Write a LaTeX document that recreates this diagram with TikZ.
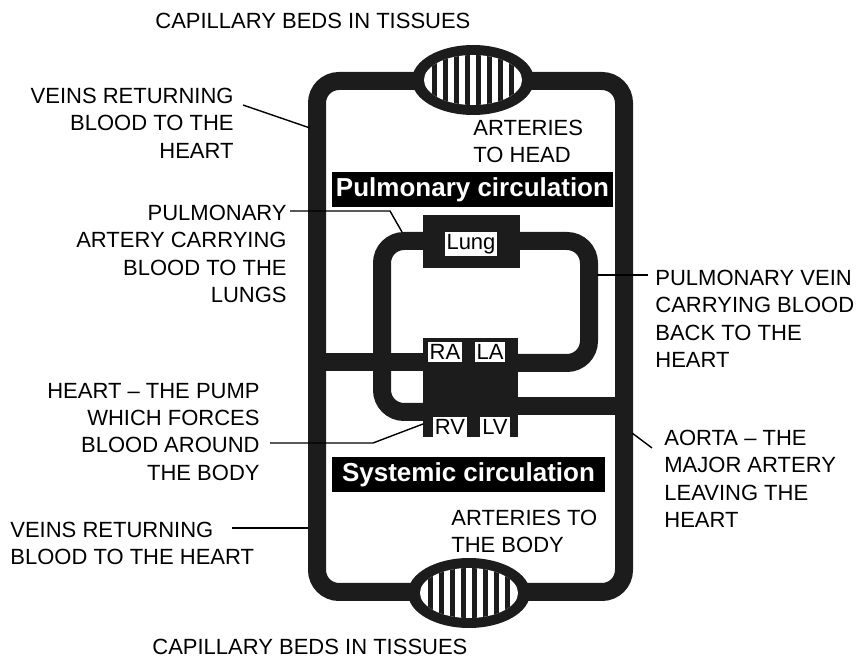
\documentclass[tikz,border=0pt]{standalone}
\usepackage{fontspec}
\setmainfont{Liberation Sans}
\usetikzlibrary{positioning}
\definecolor{vessel}{HTML}{1C1C1C}

\begin{document}
\begin{tikzpicture}[x=0.5pt,y=-0.5pt,
  tube/.style={draw=vessel, line width=9pt, rounded corners=11pt},
  organ/.style={fill=vessel, inner sep=0pt},
  tag/.style={fill=white, text=black, inner sep=1pt, font=\fontsize{11}{12}\selectfont},
  lbl/.style={inner sep=0pt, font=\fontsize{11}{13.6}\selectfont},
  title/.style={fill=black, text=white, inner sep=0pt, minimum height=17.5pt,
    font=\fontsize{13}{15}\selectfont\bfseries},
  leader/.style={draw=black, line width=0.7pt}]
\useasboundingbox (0,0) rectangle (859,658);

% vessels
\draw[tube] (317,81) rectangle (624,592);
\draw[tube] (423,412) -- (382,412) -- (382,241) -- (589,241) -- (589,363) -- (518,363);
\draw[tube] (317,362) -- (423,362);
\draw[tube] (518,406) -- (624,406);

% organs
\node[organ, minimum width=48.5pt, minimum height=26.5pt] (lung) at (471.5,241.5) {};
\node[organ, minimum width=47.5pt, minimum height=49.5pt] (heart) at (470.5,387.5) {};
\node[tag] (lungTag) at (471,244) {Lung};
\node[tag] (ra) at (445,352) {RA};
\node[tag] (la) at (490,352) {LA};
\node[tag] (rv) at (450,427) {RV};
\node[tag] (lv) at (495,427) {LV};

% capillary beds
\foreach \cx/\cy in {473/80, 469/593}{
  \fill[vessel] (\cx,\cy) ellipse [x radius=30.5pt, y radius=17.5pt];
  \begin{scope}
    \clip (\cx,\cy) ellipse [x radius=24.5pt, y radius=12.5pt];
    \fill[white] ({\cx-50},{\cy-30}) rectangle ({\cx+50},{\cy+30});
    \foreach \i in {-4,...,3}
      \fill[vessel] ({\cx+(\i+0.5)*11-2.5},{\cy-30}) rectangle ++(5,60);
  \end{scope}
}

% titles
\node[title, minimum width=140.5pt] (pulTitle) at (472.5,189.5) {Pulmonary circulation};
\node[title, minimum width=136.5pt] (sysTitle) at (468.5,475) {Systemic circulation};

% labels
\node[lbl, anchor=north west] (capTop) at (155,13) {CAPILLARY BEDS IN TISSUES};
\node[lbl, anchor=north west] (capBot) at (152,639) {CAPILLARY BEDS IN TISSUES};
\node[lbl, anchor=north west, align=left] (toHead) at (473,120) {ARTERIES\\TO HEAD};
\node[lbl, anchor=north west, align=left] (toBody) at (451,510) {ARTERIES TO\\THE BODY};
\node[lbl, anchor=north east, align=right] (veinsTop) at (234,88) {VEINS RETURNING\\BLOOD TO THE\\HEART};
\node[lbl, anchor=north east, align=right] (pulArt) at (287,205) {PULMONARY\\ARTERY CARRYING\\BLOOD TO THE\\LUNGS};
\node[lbl, anchor=north east, align=right] (pump) at (260,383) {HEART -- THE PUMP\\WHICH FORCES\\BLOOD AROUND\\THE BODY};
\node[lbl, anchor=north west, align=left] (veinsBot) at (10,522) {VEINS RETURNING\\BLOOD TO THE HEART};
\node[lbl, anchor=north west, align=left] (pulVein) at (655,270) {PULMONARY VEIN\\CARRYING BLOOD\\BACK TO THE\\HEART};
\node[lbl, anchor=north west, align=left] (aorta) at (664,430) {AORTA -- THE\\MAJOR ARTERY\\LEAVING THE\\HEART};

% leaders
\coordinate (veinUpper) at (310,128);
\coordinate (artLoop) at (402,232);
\coordinate (heartRV) at (423,424);
\coordinate (veinLower) at (308,528);
\coordinate (veinLoop) at (597,275);
\coordinate (aortaTube) at (632,433);
\draw[leader] ([shift={(9,17)}]veinsTop.north east) -- (veinUpper);
\draw[leader] ([shift={(3,6)}]pulArt.north east) -- ++(100,0) -- (artLoop);
\draw[leader] ([shift={(10,60)}]pump.north east) -- ++(103,0) -- (heartRV);
\draw[leader] ([shift={(222,6)}]veinsBot.north west) -- (veinLower);
\draw[leader] (veinLoop) -- ([shift={(-7,5)}]pulVein.north west);
\draw[leader] (aortaTube) -- ([shift={(-12,18)}]aorta.north west);
\end{tikzpicture}
\end{document}
